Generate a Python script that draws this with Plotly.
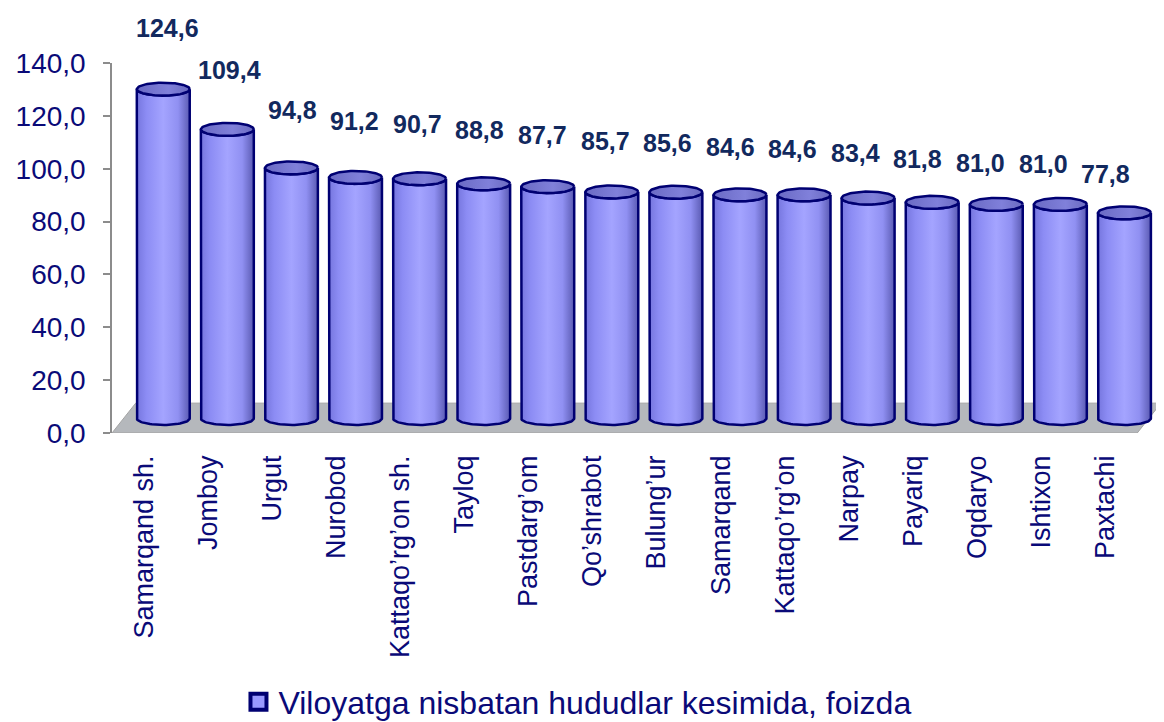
import numpy as np
import plotly.graph_objects as go

categories = ["Samarqand sh.", "Jomboy", "Urgut", "Nurobod", "Kattaqo\u2019rg\u2019on sh.",
              "Tayloq", "Pastdarg\u2019om", "Qo\u2019shrabot", "Bulung\u2019ur", "Samarqand",
              "Kattaqo\u2019rg\u2019on", "Narpay", "Payariq", "Oqdaryo", "Ishtixon", "Paxtachi"]
values = [124.6, 109.4, 94.8, 91.2, 90.7, 88.8, 87.7, 85.7, 85.6, 84.6, 84.6, 83.4, 81.8, 81.0, 81.0, 77.8]
series_name = "Viloyatga nisbatan hududlar kesimida, foizda"
y_ticks = [0, 20, 40, 60, 80, 100, 120, 140]

# style / geometry constants (pseudo-3D look)
FONT = "Liberation Sans"
NAVY = "#0a0a78"
LABEL_NAVY = "#12295e"
OUTLINE = "#000072"
X_SHIFT = 0.30      # depth shift of cylinder centre (category units)
HALF_W = 0.413      # cylinder half width (category units)
RY = 2.45           # ellipse half height (value units)
BASE = 5.5          # cylinder base elevation (depth offset)
DEPTH_X = 0.37      # floor depth in x (category units)
DEPTH_Y = 11.3      # floor depth in y (value units)
Y_MAX = 140

n = len(categories)
xmax = -0.5 + 1054 / 64.2

fig = go.Figure()

# floor
fx = [-0.5, n - 0.5, n - 0.5 + DEPTH_X, -0.5 + DEPTH_X, -0.5]
fy = [0, 0, DEPTH_Y, DEPTH_Y, 0]
fig.add_trace(go.Scatter(x=fx, y=fy, mode="lines", fill="toself", fillcolor="#b5b8bc",
                         line=dict(color="#a3a3a3", width=1), hoverinfo="skip", showlegend=False))

body_scale = [[0, "#7676de"], [0.18, "#8c8cf4"], [0.5, "#a4a4ff"], [0.78, "#9090f2"], [1, "#5a5ab2"]]
top_scale = [[0, "#6a6ac4"], [0.6, "#8080da"], [1, "#6a6ac0"]]

for i, v in enumerate(values):
    xc = i + X_SHIFT
    top = BASE + v
    tb = np.linspace(np.pi, 2 * np.pi, 40)
    tt = np.linspace(0, -np.pi, 40)
    bx = list(xc + HALF_W * np.cos(tb))
    by = list(BASE + RY * np.sin(tb))
    ttx = list(xc + HALF_W * np.cos(tt))
    tty = list(top + RY * np.sin(tt))
    xs = [xc - HALF_W] + bx + [xc + HALF_W] + ttx
    ys = [top] + by + [top] + tty
    fig.add_trace(go.Scatter(x=xs, y=ys, mode="lines", fill="toself",
                             fillgradient=dict(type="horizontal", colorscale=body_scale),
                             line=dict(color=OUTLINE, width=2.5), hoverinfo="skip", showlegend=False))
    te = np.linspace(0, 2 * np.pi, 80)
    fig.add_trace(go.Scatter(x=list(xc + HALF_W * np.cos(te)), y=list(top + RY * np.sin(te)),
                             mode="lines", fill="toself",
                             fillgradient=dict(type="horizontal", colorscale=top_scale),
                             line=dict(color=OUTLINE, width=2.5), hoverinfo="skip", showlegend=False))

# value labels: y given in paper units derived from the 0..Y_MAX axis so the top one may sit above it
for i, v in enumerate(values):
    fig.add_annotation(x=i + (23 - 1.5 * i) / 64.2, xref="x",
                       y=(v + 28.5 - 0.55 * i) / Y_MAX, yref="paper",
                       xanchor="center", yanchor="middle",
                       text=f"{v:.1f}".replace(".", ","), showarrow=False,
                       font=dict(family=FONT, size=25, color=LABEL_NAVY, weight="bold"))

# legend entry (data placed on a hidden axis so only the legend symbol shows)
fig.add_trace(go.Scatter(x=list(range(n)), y=values, yaxis="y2", mode="markers", name=series_name,
                         marker=dict(symbol="square", size=16, color="#9999ff",
                                     line=dict(color=OUTLINE, width=4)),
                         hoverinfo="skip", showlegend=True))

# page body adds an 8px offset, compensated in the margins
fig.update_layout(
    width=1164, height=722,
    margin=dict(l=102, r=8, t=55, b=297),
    paper_bgcolor="white", plot_bgcolor="white",
    separators=", ",
    font=dict(family=FONT, color=NAVY),
    showlegend=True,
    legend=dict(orientation="h", xref="container", yref="container", x=0.198, y=0.039,
                xanchor="left", yanchor="middle", font=dict(size=32, color=NAVY, family=FONT),
                itemwidth=30, bgcolor="rgba(0,0,0,0)"),
    xaxis=dict(range=[-0.5, xmax], tickmode="array", tickvals=list(range(n)), ticktext=categories,
               tickangle=-90, ticks="", showgrid=False, zeroline=False, showline=False,
               tickfont=dict(size=27, color=NAVY, family=FONT), ticklabelstandoff=16),
    xaxis2=dict(range=[-0.5, xmax], overlaying="x", matches="x", side="bottom",
                tickmode="array", tickvals=[k - 0.5 for k in range(n + 1)], ticks="outside",
                ticklen=7, tickcolor="#8c8c8c", tickwidth=1.5, showticklabels=False,
                showgrid=False, zeroline=False, showline=False),
    yaxis=dict(range=[0, Y_MAX], tickmode="array", tickvals=y_ticks, tickformat=".1f",
               ticks="outside", ticklen=7, tickcolor="#8c8c8c", tickwidth=1.5,
               showline=True, linecolor="#8c8c8c", linewidth=1.5, showgrid=False, zeroline=False,
               tickfont=dict(size=28, color=NAVY, family=FONT), ticklabelstandoff=12),
    yaxis2=dict(range=[1000, 1001], overlaying="y", visible=False),
)

fig.write_html("out.html")
